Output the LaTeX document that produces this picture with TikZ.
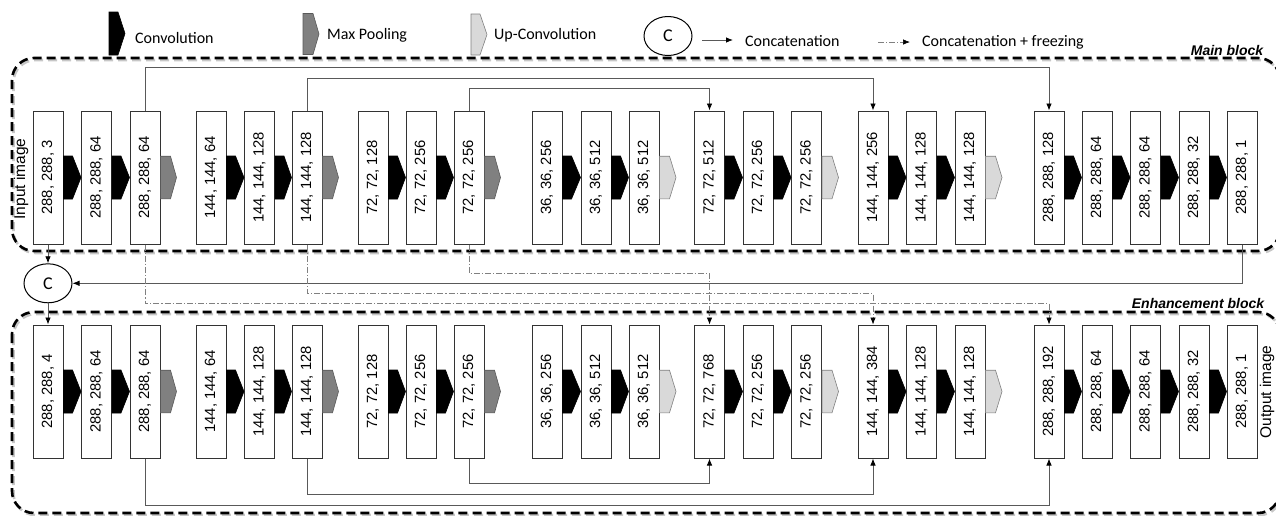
\documentclass[tikz,border=0pt]{standalone}
\usepackage{fontspec}
\usepackage{graphicx}
\setmainfont{Carlito}
\newfontfamily\arialf{Liberation Sans}
\usetikzlibrary{arrows.meta,calc,shapes.geometric}
\begin{document}
\begin{tikzpicture}[x=1pt,y=-1pt,
 lbox/.style={draw=black!80, fill=white, line width=1pt, minimum width=30pt, minimum height=133pt, inner sep=0pt, font=\arialf\fontsize{14.8}{16}\selectfont},
 conn/.style={draw=black!65, line width=0.8pt, -{Latex[length=7pt,width=5.5pt,color=black]}},
 frz/.style={draw=black!50, line width=0.7pt, dash pattern=on 6pt off 2pt on 1.2pt off 2pt, -{Latex[length=7pt,width=5.5pt,color=black]}},
 convsh/.style={fill=black, draw=black, line width=0.6pt},
 poolsh/.style={fill=black!50, draw=black!65, line width=0.6pt},
 upsh/.style={fill=black!15, draw=black!50, line width=0.6pt},
 blockb/.style={draw=black, line width=2.6pt, dash pattern=on 9pt off 5pt, rounded corners=22pt},
 blocksh/.style={draw=black!22, line width=2.6pt, dash pattern=on 9pt off 5pt, rounded corners=22pt},
 legtxt/.style={font=\fontsize{16}{18}\selectfont, anchor=west, inner sep=0pt},
 blk/.style={font=\arialf\bfseries\itshape\fontsize{14}{16}\selectfont, inner sep=0pt},
 side/.style={font=\arialf\fontsize{15.5}{17}\selectfont, rotate=90, inner sep=0pt},
 cnode/.style={draw=black, line width=1pt, ellipse, minimum width=48pt, minimum height=39pt, inner sep=0pt, font=\fontsize{18}{20}\selectfont}
]
\useasboundingbox (0,0) rectangle (1276,515);

% block borders
\draw[blocksh] (13.5,60) rectangle (1281.5,253);
\draw[blockb] (12,58) rectangle (1280,251);
\draw[blocksh] (13.5,314) rectangle (1281.5,515);
\draw[blockb] (12,312) rectangle (1280,513);
\node[blk, fill=white, inner xsep=2pt, inner ysep=1pt] (mainlbl) at (1227,50) {Main block};
\node[blk, fill=white, inner xsep=2pt, inner ysep=1pt] (enhlbl) at (1198,303) {Enhancement block};
\node[side] (inimg) at (21,179) {Input image};
\node[side] (outimg) at (1267,392) {Output image};

% legend
\filldraw[convsh] (109,12) -- (118,12) -- (125,33.5) -- (118,55) -- (109,55) -- cycle;
\node[legtxt] (lconv) at (135,38) {Convolution};
\filldraw[poolsh] (303,13.5) -- (313,13.5) -- (319,34) -- (313,54.5) -- (303,54.5) -- cycle;
\node[legtxt] (lpool) at (327,35) {Max Pooling};
\filldraw[upsh] (471,14) -- (480,14) -- (487,34.5) -- (480,55) -- (471,55) -- cycle;
\node[legtxt] (lup) at (494,35) {Up-Convolution};
\node[cnode] (lc) at (668,36) {C};
\coordinate (la1) at (702,40);
\coordinate (la2) at (733,40);
\draw[conn] (la1) -- (la2);
\node[legtxt] (lcat) at (745,41) {Concatenation};
\coordinate (lb1) at (878,42);
\coordinate (lb2) at (910,42);
\draw[frz] (lb1) -- (lb2);
\node[legtxt] (lfrz) at (922,42) {Concatenation + freezing};

% boxes
\foreach \n/\x/\ta/\ba in {
 1/33/{288, 288, 3}/{288, 288, 4},
 2/81.5/{288, 288, 64}/{288, 288, 64},
 3/130/{288, 288, 64}/{288, 288, 64},
 4/196/{144, 144, 64}/{144, 144, 64},
 5/244.5/{144, 144, 128}/{144, 144, 128},
 6/292/{144, 144, 128}/{144, 144, 128},
 7/358/{72, 72, 128}/{72, 72, 128},
 8/406/{72, 72, 256}/{72, 72, 256},
 9/454/{72, 72, 256}/{72, 72, 256},
 10/532/{36, 36, 256}/{36, 36, 256},
 11/581/{36, 36, 512}/{36, 36, 512},
 12/629/{36, 36, 512}/{36, 36, 512},
 13/694.5/{72, 72, 512}/{72, 72, 768},
 14/743/{72, 72, 256}/{72, 72, 256},
 15/791.5/{72, 72, 256}/{72, 72, 256},
 16/858/{144, 144, 256}/{144, 144, 384},
 17/906.5/{144, 144, 128}/{144, 144, 128},
 18/955/{144, 144, 128}/{144, 144, 128},
 19/1034/{288, 288, 128}/{288, 288, 192},
 20/1082/{288, 288, 64}/{288, 288, 64},
 21/1130.5/{288, 288, 64}/{288, 288, 64},
 22/1179/{288, 288, 32}/{288, 288, 32},
 23/1227/{288, 288, 1}/{288, 288, 1}}{
 \node[lbox] (t\n) at (\x+15,177.5) {\rotatebox{90}{\ta}};
 \node[lbox] (b\n) at (\x+15,391.5) {\rotatebox{90}{\ba}};
}

% layer arrows
\foreach \r in {t,b}{
 \foreach \i/\j in {1/2,2/3,4/5,5/6,7/8,8/9,10/11,11/12,13/14,14/15,16/17,17/18,19/20,20/21,21/22,22/23}{
  \filldraw[convsh] ($(\r\i.east)+(0,-21.5)$) -- ($(\r\i.east)+(9,-21.5)$) -- (\r\j.west) -- ($(\r\i.east)+(9,21.5)$) -- ($(\r\i.east)+(0,21.5)$) -- cycle;
 }
 \foreach \i in {3,6,9}{
  \filldraw[poolsh] ($(\r\i.east)+(0,-21.3)$) -- ++(10,0) -- ++(6,21.3) -- ++(-6,21.3) -- ++(-10,0) -- cycle;
 }
 \foreach \i in {12,15,18}{
  \filldraw[upsh] ($(\r\i.east)+(0,-21.3)$) -- ++(10,0) -- ++(6.5,21.3) -- ++(-6.5,21.3) -- ++(-10,0) -- cycle;
 }
}

% skip connections, main block
\coordinate (h1) at (0,67);
\coordinate (h2) at (0,78);
\coordinate (h3) at (0,88);
\draw[conn] (t3.north) -- (t3.north |- h1) -| (t19.north);
\draw[conn] (t6.north) -- (t6.north |- h2) -| (t16.north);
\draw[conn] (t9.north) -- (t9.north |- h3) -| (t13.north);

% skip connections, enhancement block
\coordinate (l1) at (0,505);
\coordinate (l2) at (0,494);
\coordinate (l3) at (0,483);
\draw[conn] (b3.south) -- (b3.south |- l1) -| (b19.south);
\draw[conn] (b6.south) -- (b6.south |- l2) -| (b16.south);
\draw[conn] (b9.south) -- (b9.south |- l3) -| (b13.south);

% concatenation node and links
\node[cnode, fill=white] (cc) at (48,283.3) {C};
\draw[conn] (t1.south) -- (cc.north);
\draw[conn] (cc.south) -- (b1.north);
\draw[conn] (t23.south) -- (t23.south |- cc.east) -- (cc.east);

\coordinate (m1) at (0,273.3);
\coordinate (m3) at (0,293.3);
\coordinate (m4) at (0,303.3);
\draw[frz] (t9.south) -- (t9.south |- m1) -| (b13.north);
\draw[frz] (t6.south) -- (t6.south |- m3) -| (b16.north);
\draw[frz] (t3.south) -- (t3.south |- m4) -| (b19.north);
\end{tikzpicture}
\end{document}
